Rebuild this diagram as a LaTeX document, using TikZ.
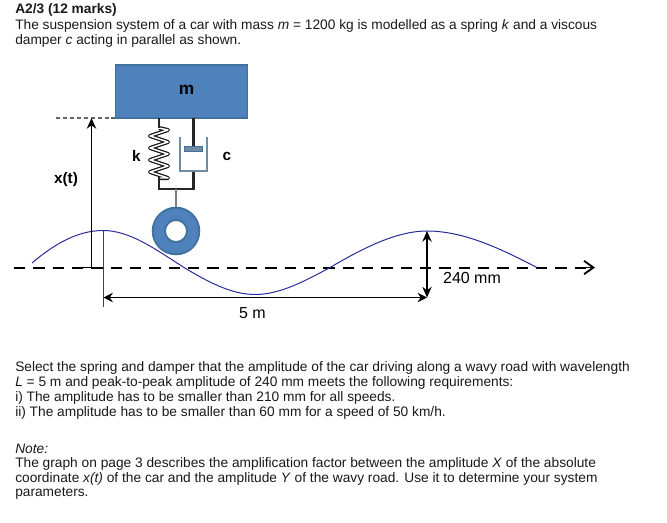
\documentclass[tikz,border=0pt]{standalone}
\usepackage{fontspec}
\setmainfont{Liberation Sans}
\usetikzlibrary{arrows.meta}
\definecolor{bluefill}{HTML}{4F81BD}
\definecolor{blueedge}{HTML}{41719C}
\definecolor{wavec}{HTML}{2B2B9B}
\definecolor{cylc}{HTML}{6F8CA3}
\tikzset{
  txt/.style={anchor=west,inner sep=0pt,font=\fontsize{10.3pt}{12pt}\selectfont,text=black!90},
  lab/.style={inner sep=0pt,font=\fontsize{11.5pt}{13pt}\selectfont\bfseries},
  dim/.style={inner sep=0pt,font=\fontsize{12pt}{14pt}\selectfont},
  blueshape/.style={fill=bluefill,draw=blueedge,line width=1.2pt},
  road/.style={draw=wavec,line width=0.75pt},
  axisdash/.style={line width=1.5pt,dash pattern=on 8.5pt off 6pt},
  thin line/.style={line width=0.7pt,draw=black!75},
  arr/.style={line width=1.3pt,-{Stealth[length=8pt,width=7pt]}},
  rod/.style={line width=2pt,draw=black!85}
}
\begin{document}
\begin{tikzpicture}[x=0.75pt,y=-0.75pt]
\useasboundingbox (0,0) rectangle (667,522);
% text
\node[txt,font=\fontsize{10.3pt}{12pt}\selectfont\bfseries] (t0) at (15,10) {A2/3 (12 marks)};
\node[txt] (t1) at (15,25.5) {The suspension system of a car with mass \textit{m} = 1200 kg is modelled as a spring \textit{k} and a viscous};
\node[txt] (t2) at (15,40.5) {damper \textit{c} acting in parallel as shown.};
\node[txt] (t3) at (15,368) {Select the spring and damper that the amplitude of the car driving along a wavy road with wavelength};
\node[txt] (t4) at (15,383) {\textit{L} = 5 m and peak-to-peak amplitude of 240 mm meets the following requirements:};
\node[txt] (t5) at (15,398) {i) The amplitude has to be smaller than 210 mm for all speeds.};
\node[txt] (t6) at (15,412.5) {ii) The amplitude has to be smaller than 60 mm for a speed of 50 km/h.};
\node[txt] (t7) at (15,449) {\textit{Note:}};
\node[txt] (t8) at (15,464) {The graph on page 3 describes the amplification factor between the amplitude \textit{X} of the absolute};
\node[txt] (t9) at (15,478.5) {coordinate \textit{x(t)} of the car and the amplitude \textit{Y} of the wavy road. Use it to determine your system};
\node[txt] (t10) at (15,493.5) {parameters.};
% reference dashes
\coordinate (refL) at (56,118);
\coordinate (refR) at (126,118);
\draw[black!60,line width=0.9pt,dash pattern=on 3pt off 2.2pt] (refL) -- (refR);
% mass
\node[blueshape,minimum width=99pt,minimum height=39.5pt,inner sep=0pt] (mass) at (181.5,91.5) {};
\node[lab,font=\fontsize{13pt}{14pt}\selectfont\bfseries] (mlabel) at (186.5,89.5) {m};
% road axis
\coordinate (axL) at (14,267.5);
\coordinate (axR) at (595,267.5);
\draw[axisdash] (axL) -- (586,267.5);
\draw[line width=1.4pt,-{Straight Barb[length=7pt,width=10pt]}] (582,267.5) -- (axR);
% wave
\draw[road] (32,263) .. controls (52,246) and (76,230.5) .. (103,230.5)
  .. controls (130,230.5) and (155,249) .. (184,267.5)
  .. controls (205,280) and (230,294.5) .. (255,294.5)
  .. controls (280,294.5) and (305,281) .. (330,267.5)
  .. controls (360,250) and (395,231) .. (427,231)
  .. controls (465,231) and (503,250) .. (537,267.5);
% x(t) arrow
\coordinate (xbase) at (91.5,267.5);
\coordinate (xtop) at (91.5,118);
\draw[line width=1.4pt] (82,267.5) -- (xbase);
\draw[arr] (xbase) -- (xtop);
\node[lab] (xl) at (66,179.5) {x(t)};
% spring
\coordinate (sprA) at (159,118);
\coordinate (sprB) at (159,189);
\foreach \lw/\c in {3pt/black!90,1.1pt/white}{
\draw[line width=\lw,draw=\c,line join=round]
 (159,128) -- (168,130) -- (150,136) -- (168,142) -- (150,148) -- (168,154) -- (150,160) -- (168,166) -- (150,172) -- (168,178) -- (159,178);
}
\draw[rod] (sprA) -- (159,128);
\draw[rod] (159,177) -- (sprB);
% damper
\coordinate (dampA) at (193.5,118);
\coordinate (dampB) at (193.5,189);
\draw[rod] (dampA) -- (193.5,148);
\draw[rod] (193.5,171) -- (dampB);
\draw[draw=cylc,line width=2pt] (180,137) -- (180,171) -- (207,171) -- (207,137);
\node[fill=cylc,draw=blueedge,line width=0.5pt,minimum width=13.5pt,minimum height=3.6pt,inner sep=0pt] (piston) at (193.5,148.7) {};
% crossbar and stem
\draw[line width=1.4pt,draw=black!85] (158,189) -- (194.5,189);
\coordinate (stemT) at (176,189);
\node[circle,blueshape,minimum size=35pt,inner sep=0pt,line width=1.4pt] (wheel) at (176,231) {};
\node[circle,fill=white,draw=blueedge,line width=1.4pt,minimum size=16.5pt,inner sep=0pt] (hub) at (176,231) {};
\draw[line width=1.1pt,black!50] (stemT) -- (wheel.north);
\node[lab] (kl) at (136.5,156) {k};
\node[lab] (cl) at (227,156.5) {c};
% dimensions
\coordinate (d1t) at (103.5,230.5);
\coordinate (d1b) at (103.5,307);
\coordinate (d1a) at (103.5,297.5);
\coordinate (d2a) at (427,297.5);
\coordinate (d2t) at (427,231);
\draw[thin line] (d1t) -- (d1b);
\draw[line width=1.3pt,{Stealth[length=7pt,width=7pt]}-{Stealth[length=7pt,width=7pt]}] (d1a) -- (d2a);
\draw[line width=1.6pt,{Stealth[length=8pt,width=7pt]}-{Stealth[length=8pt,width=7pt]}] (d2t) -- (d2a);
\node[dim] (five) at (252.5,313) {5 m};
\node[dim] (amp) at (472,277.5) {240 mm};
\end{tikzpicture}
\end{document}
